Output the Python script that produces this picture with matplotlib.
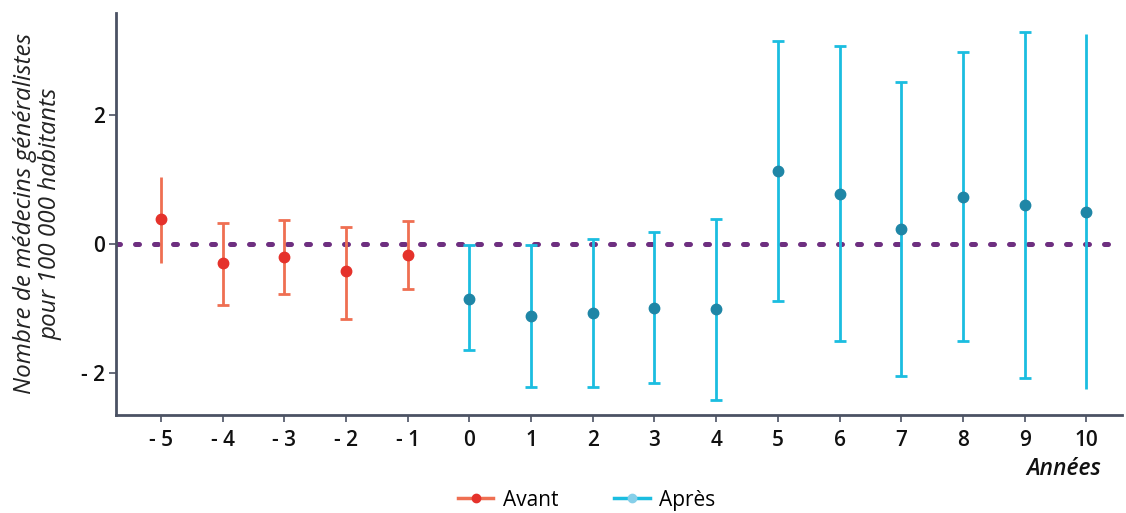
import numpy as np
import matplotlib.pyplot as plt

# années relatives
years = [-5, -4, -3, -2, -1, 0, 1, 2, 3, 4, 5, 6, 7, 8, 9, 10]
estimate = [0.39, -0.29, -0.20, -0.42, -0.17,
            -0.85, -1.11, -1.07, -0.99, -1.01, 1.13, 0.77, 0.23, 0.72, 0.61, 0.50]
ci_low = [-0.29, -0.95, -0.78, -1.16, -0.70,
          -1.64, -2.21, -2.21, -2.16, -2.42, -0.88, -1.51, -2.04, -1.51, -2.07, -2.25]
ci_high = [1.04, 0.33, 0.37, 0.26, 0.36,
           -0.01, -0.01, 0.07, 0.19, 0.39, 3.14, 3.06, 2.51, 2.97, 3.28, 3.25]
has_cap = [False, True, True, True, True,
           True, True, True, True, True, True, True, True, True, True, False]
tick_labels = ["- 5", "- 4", "- 3", "- 2", "- 1", "0", "1", "2", "3", "4",
               "5", "6", "7", "8", "9", "10"]

plt.rcParams['font.family'] = ['Open Sans', 'DejaVu Sans']

red_pt, red_bar = "#e5322b", "#ef6f52"
blue_pt, blue_bar = "#1f86a6", "#1bbde0"
spine_col = "#4b5263"

fig = plt.figure(figsize=(11.26, 5.13), dpi=100)
ax = fig.add_axes([0.103, 0.191, 0.8935, 0.784])

ax.axhline(0, color="#6e2f80", lw=3.6, dashes=(0.8, 3.0), dash_capstyle="round", zorder=1)

for i, x in enumerate(years):
    before = x < 0
    y = estimate[i]
    err = [[y - ci_low[i]], [ci_high[i] - y]]
    ax.errorbar([x], [y], yerr=err, fmt="o",
                color=red_pt if before else blue_pt,
                ecolor=red_bar if before else blue_bar,
                elinewidth=2.0, markersize=7.5,
                capsize=4 if has_cap[i] else 0, capthick=2.0, zorder=3)

ax.set_xlim(-5.73, 10.58)
ax.set_ylim(-2.65, 3.58)
ax.set_xticks(years)
ax.set_xticklabels(tick_labels)
ax.set_yticks([-2, 0, 2])
ax.set_yticklabels(["- 2", "0", "2"])
ax.tick_params(axis="both", labelsize=15, colors=spine_col, length=5, width=1.2,
               labelcolor="#111111")
ax.tick_params(axis="x", pad=6)
ax.tick_params(axis="y", pad=3)
for lab in ax.get_xticklabels() + ax.get_yticklabels():
    lab.set_fontweight("semibold")

for side in ["top", "right"]:
    ax.spines[side].set_visible(False)
for side in ["left", "bottom"]:
    ax.spines[side].set_color(spine_col)
    ax.spines[side].set_linewidth(2)

ax.set_ylabel("Nombre de médecins généralistes\npour 100 000 habitants",
              fontsize=17.5, style="italic", color="#222222", labelpad=13,
              linespacing=1.1)
fig.text(0.978, 0.086, "Années", ha="right", va="center", fontsize=16.5,
         style="italic", fontweight="semibold", color="#111111")

h1, = ax.plot([], [], color=red_bar, lw=2.5, marker="o", markersize=6,
              markerfacecolor=red_pt, markeredgecolor=red_pt)
h2, = ax.plot([], [], color=blue_bar, lw=2.5, marker="o", markersize=6,
              markerfacecolor="#86cfe9", markeredgecolor="#86cfe9")
fig.legend([h1, h2], ["Avant", "Après"], loc="center", bbox_to_anchor=(0.521, 0.025),
           ncol=2, frameon=False, fontsize=15, handlelength=1.7, columnspacing=2.7,
           handletextpad=0.45)

fig.savefig("out.png", dpi=100)
